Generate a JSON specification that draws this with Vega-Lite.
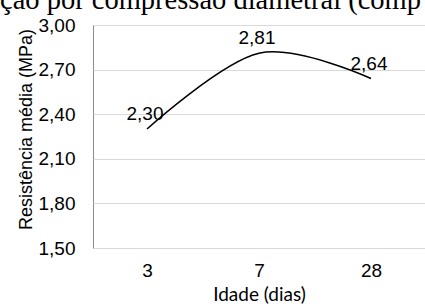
{
  "$schema": "https://vega.github.io/schema/vega-lite/v6.json",
  "autosize": {"type": "none"},
  "padding": {"left": 93, "top": 25, "right": 0, "bottom": 59},
  "width": 332,
  "height": 223,
  "background": "white",
  "title": {
    "text": "ção por compressão diametral (comp",
    "font": "Liberation Serif",
    "fontSize": 28.5,
    "fontWeight": "normal",
    "color": "black",
    "anchor": "start",
    "frame": "group",
    "orient": "top",
    "offset": 0,
    "baseline": "alphabetic",
    "dy": 21,
    "dx": -93
  },
  "data": {
    "values": [
      {"idade": "3", "resistencia": 2.30},
      {"idade": "7", "resistencia": 2.81},
      {"idade": "28", "resistencia": 2.64}
    ]
  },
  "transform": [
    {"calculate": "replace(format(datum.resistencia, '.2f'), '.', ',')", "as": "rotulo"}
  ],
  "encoding": {
    "x": {
      "field": "idade",
      "type": "ordinal",
      "sort": ["3", "7", "28"],
      "scale": {"type": "point", "padding": 0.482},
      "axis": {
        "title": "Idade (dias)",
        "titleFont": "Lato",
        "titleFontSize": 19,
        "titleFontWeight": "normal",
        "titleColor": "black",
        "titlePadding": 5,
        "labelFont": "Liberation Sans",
        "labelFontSize": 19,
        "labelColor": "black",
        "labelAngle": 0,
        "labelPadding": 13,
        "ticks": false,
        "domain": false,
        "grid": false
      }
    },
    "y": {
      "field": "resistencia",
      "type": "quantitative",
      "scale": {"domain": [1.5, 3.0], "nice": false, "zero": false},
      "axis": {
        "title": "Resistência média (MPa)",
        "titleFont": "Liberation Sans",
        "titleFontSize": 18,
        "titleFontWeight": "normal",
        "titleColor": "black",
        "titlePadding": 3,
        "titleY": 104,
        "labelFont": "Liberation Sans",
        "labelFontSize": 19,
        "labelColor": "black",
        "labelPadding": 18,
        "values": [1.5, 1.8, 2.1, 2.4, 2.7, 3.0],
        "labelExpr": "replace(format(datum.value, '.2f'), '.', ',')",
        "ticks": false,
        "domain": false,
        "grid": true,
        "gridColor": "#d9d9d9",
        "gridWidth": 1
      }
    }
  },
  "layer": [
    {
      "mark": {"type": "line", "interpolate": "cardinal", "tension": 0, "color": "black", "strokeWidth": 1.5}
    },
    {
      "mark": {"type": "text", "font": "Liberation Sans", "fontSize": 19, "color": "black", "dy": -15, "dx": -2},
      "encoding": {"text": {"field": "rotulo"}}
    }
  ],
  "config": {
    "view": {"stroke": "#8c8c8c", "strokeWidth": 1}
  }
}
